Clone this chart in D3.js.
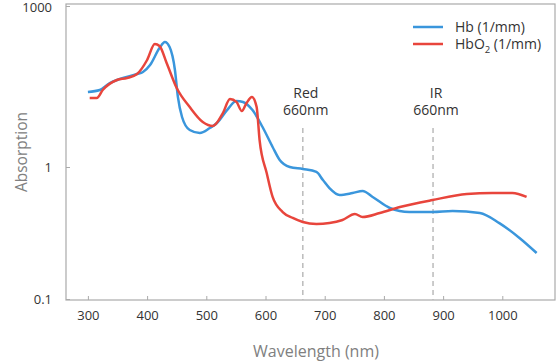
<!DOCTYPE html>
<html>
<head>
<meta charset="utf-8">
<script src="https://cdn.jsdelivr.net/npm/d3@7"></script>
<style>
  body { margin: 0; background: #fff; }
  text { font-family: "Open Sans", sans-serif; }
</style>
</head>
<body>
<div id="chart"></div>
<script>
// absorption spectra
const hbWave = [300, 320, 337, 354, 383, 393, 405, 421, 430, 438, 447, 452, 459, 472, 489, 506, 518, 535, 551, 562, 578, 595, 612, 624, 641, 663, 686, 697, 708, 725, 747, 764, 781, 810, 843, 882, 916, 962, 995, 1029, 1058];
const hbVals = [25, 27.2, 36.7, 43.6, 54.1, 58.9, 79.5, 165, 213, 172, 64.2, 20.2, 8.55, 4.89, 4.3, 5.33, 6.61, 11.5, 17, 16.3, 11.5, 5.56, 2.36, 1.35, 1.0, 0.966, 0.917, 0.797, 0.693, 0.614, 0.635, 0.658, 0.593, 0.489, 0.456, 0.456, 0.464, 0.448, 0.376, 0.29, 0.223];

const hbo2Wave = [303, 315, 325, 349, 366, 383, 400, 413, 421, 433, 450, 472, 494, 511, 528, 540, 551, 560, 568, 577, 585, 590, 602, 612, 629, 646, 663, 686, 708, 730, 751, 764, 793, 827, 882, 940, 983, 1017, 1041];
const hbo2Vals = [19.3, 19.3, 27.2, 41.8, 45.5, 54.1, 98.6, 196, 180, 86.6, 29.6, 13.1, 6.9, 5.81, 10.1, 18.5, 16.3, 11.0, 15.6, 20.2, 13.1, 3.18, 0.901, 0.593, 0.456, 0.411, 0.383, 0.37, 0.376, 0.397, 0.441, 0.418, 0.448, 0.497, 0.562, 0.624, 0.635, 0.635, 0.593];

const xTicks = [300, 400, 500, 600, 700, 800, 900, 1000];
const yTicks = [0.1, 1, 1000];
const markers = [{x: 663, lines: ["Red", "660nm"]}, {x: 883, lines: ["IR", "660nm"]}];
const series = [
  {name: "Hb (1/mm)", color: "#3a96dc", wave: hbWave, vals: hbVals},
  {name: "HbO", sub: "2", tail: " (1/mm)", color: "#e8453c", wave: hbo2Wave, vals: hbo2Vals}
];

const W = 557, H = 362;
const margin = {left: 66, right: 555, top: 4, bottom: 300};

const svg = d3.select("#chart").append("svg")
    .attr("width", W)
    .attr("height", H);

const x = d3.scaleLinear().domain([263, 1089]).range([margin.left, margin.right]);
// the axis is not evenly spaced per decade in the picture, so piecewise log
const y = d3.scaleLog().domain([0.1, 1, 1000]).range([299, 167, 6]);

// frame
svg.append("rect")
    .attr("x", margin.left).attr("y", margin.top)
    .attr("width", margin.right - margin.left).attr("height", margin.bottom - margin.top)
    .attr("fill", "none").attr("stroke", "#aaa").attr("stroke-width", 1.2);

// x axis
const xAxis = svg.append("g")
    .attr("transform", `translate(0,${margin.bottom})`)
    .call(d3.axisBottom(x).tickValues(xTicks).tickSize(-4).tickPadding(11).tickFormat(d3.format("d")));
xAxis.select(".domain").remove();
xAxis.selectAll("line").attr("stroke", "#aaa");
xAxis.selectAll("text").attr("font-size", 13).attr("fill", "#333");

// y axis
const yAxis = svg.append("g")
    .attr("transform", `translate(${margin.left},0)`)
    .call(d3.axisLeft(y).tickValues(yTicks).tickSize(-4).tickPadding(14).tickFormat(d => String(d)));
yAxis.select(".domain").remove();
yAxis.selectAll("line").attr("stroke", "#aaa");
yAxis.selectAll("text").attr("font-size", 13).attr("fill", "#333");
yAxis.selectAll(".tick").filter(d => d === 1000).select("text").attr("dy", "0.42em");

// axis titles
svg.append("text")
    .attr("x", 316).attr("y", 357)
    .attr("text-anchor", "middle")
    .attr("font-size", 16).attr("fill", "#808080")
    .text("Wavelength (nm)");

svg.append("text")
    .attr("transform", "translate(27,152) rotate(-90)")
    .attr("text-anchor", "middle")
    .attr("font-size", 15.5).attr("fill", "#808080")
    .text("Absorption");

// markers
markers.forEach(m => {
    svg.append("line")
        .attr("x1", x(m.x)).attr("x2", x(m.x))
        .attr("y1", 128).attr("y2", margin.bottom)
        .attr("stroke", "#bbb").attr("stroke-width", 1.5)
        .attr("stroke-dasharray", "5,4");
    m.lines.forEach((t, i) => {
        svg.append("text")
            .attr("x", x(m.x) + 3).attr("y", 98 + i * 17)
            .attr("text-anchor", "middle")
            .attr("font-size", 14).attr("fill", "#333")
            .text(t);
    });
});

// lines
const line = d3.line()
    .x(d => x(d[0]))
    .y(d => y(d[1]))
    .curve(d3.curveMonotoneX);

series.forEach(s => {
    svg.append("path")
        .datum(d3.zip(s.wave, s.vals))
        .attr("d", line)
        .attr("fill", "none")
        .attr("stroke", s.color)
        .attr("stroke-width", 2.5)
        .attr("stroke-linejoin", "round");
});

// legend
series.forEach((s, i) => {
    const ly = 27 + i * 17;
    svg.append("line")
        .attr("x1", 413).attr("x2", 443)
        .attr("y1", ly).attr("y2", ly)
        .attr("stroke", s.color).attr("stroke-width", 2.5);
    const t = svg.append("text")
        .attr("x", 455).attr("y", ly + 5)
        .attr("font-size", 14).attr("fill", "#333");
    t.append("tspan").text(s.name);
    if (s.sub) {
        t.append("tspan").attr("font-size", 9.5).attr("dy", 4).text(s.sub);
        t.append("tspan").attr("dy", -4).text(s.tail);
    }
});
</script>
</body>
</html>
